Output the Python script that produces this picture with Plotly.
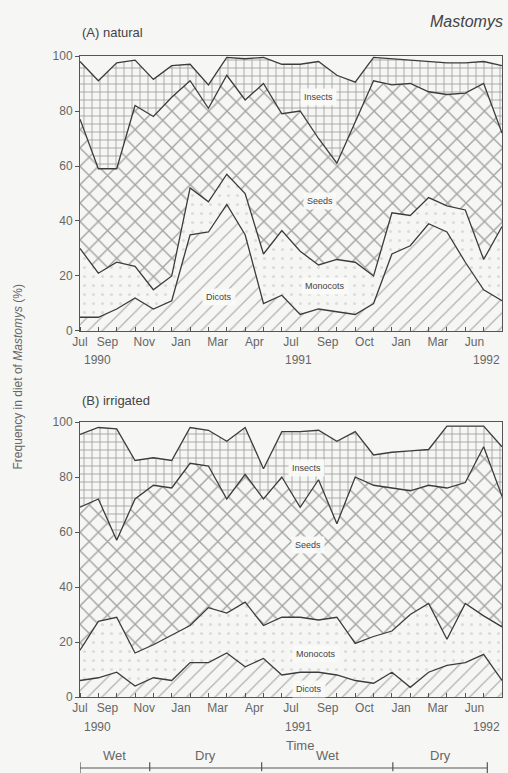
import plotly.graph_objects as go

# ---------------- data ----------------
months = list(range(24))  # monthly samples Jul 1990 .. Jun 1992
tick_pos = [0, 1.5, 3.5, 5.5, 7.5, 9.5, 11.5, 13.5, 15.5, 17.5, 19.5, 21.5]
tick_text = ["Jul", "Sep", "Nov", "Jan", "Mar", "Apr", "Jul", "Sep", "Oct", "Jan", "Mar", "Jun"]
year_text = ["1990", "1991", "1992"]
year_pos = [0.95, 11.9, 23]
season_text = ["Wet", "Dry", "Wet", "Dry"]
season_bounds = [0, 3.8, 9.9, 17.05, 22.2]

# cumulative upper boundaries (%) — (A) natural
nat_dicots = [5, 5, 8, 12, 8, 11, 35, 36, 46, 35, 10, 13, 6, 8, 7, 6, 10, 28, 31, 39, 36, 25, 15, 11]
nat_monocots = [30, 21, 25, 23.5, 15, 20, 52, 47, 57, 50, 28, 36.5, 29, 24, 26, 25, 20, 43, 42, 48.5, 45.5, 44, 26, 38]
nat_seeds = [77, 59, 59, 82, 78, 85, 91, 81, 93, 84, 90, 79, 80, 70, 61, 76, 91, 89.5, 90, 87, 86, 86.5, 90, 72]
nat_insects = [98, 91, 97.5, 98.5, 91.5, 96.5, 97, 89.5, 99.5, 99, 99.5, 97, 97, 98, 93, 90.5, 99.5, 99, 98.5, 98, 97.5, 97.5, 98, 96.5]

# cumulative upper boundaries (%) — (B) irrigated
irr_dicots = [6, 7, 9, 4, 7, 6, 12.5, 12.5, 16, 11, 14, 8, 9, 9, 8, 6, 5, 9, 3.5, 9, 11.5, 12.5, 15.5, 6]
irr_monocots = [17, 27.5, 29, 16, 19, 22.5, 26, 32.5, 30.5, 34.5, 26, 29, 29, 28, 29, 19.5, 22, 24, 30, 34, 21, 34, 29.5, 25.5]
irr_seeds = [69, 72, 57, 72, 77, 76, 85, 84, 72, 81, 72, 80, 69, 79, 63, 80, 77, 76, 75, 77, 76, 78, 91, 73]
irr_insects = [95.5, 98, 97.5, 86, 87, 86, 98, 97, 93, 98, 83, 96.5, 96.5, 97, 93, 96.5, 88, 89, 89.5, 90, 98.5, 98.5, 98.5, 91]

categories = ["Dicots", "Monocots", "Seeds", "Insects"]

# ---------------- style ----------------
BG = "#f6f6f4"
INK = "#3c3c3c"
GRAY = "#666666"
FONT = "Liberation Sans, Arial, sans-serif"
patterns = {
    "Dicots": dict(shape="/", size=10, solidity=0.12, fgcolor="#6a6a6a", bgcolor=BG),
    "Monocots": dict(shape=".", size=9, solidity=0.1, fgcolor="#c2c2c2", bgcolor=BG),
    "Seeds": dict(shape="x", size=13, solidity=0.2, fgcolor="#505050", bgcolor=BG),
    "Insects": dict(shape="+", size=8, solidity=0.2, fgcolor="#444444", bgcolor=BG),
}

fig = go.Figure()


def add_panel(series, xa, ya):
    fig.add_trace(go.Scatter(x=months, y=[0] * len(months), mode="lines",
                             line=dict(width=0), xaxis=xa, yaxis=ya,
                             hoverinfo="skip", showlegend=False))
    for name, vals in zip(categories, series):
        fig.add_trace(go.Scatter(
            x=months, y=vals, mode="lines", name=name, fill="tonexty",
            fillcolor=BG, fillpattern=patterns[name],
            line=dict(color=INK, width=1.3), xaxis=xa, yaxis=ya,
            showlegend=False))


add_panel([nat_dicots, nat_monocots, nat_seeds, nat_insects], "x", "y")
add_panel([irr_dicots, irr_monocots, irr_seeds, irr_insects], "x2", "y2")

xcommon = dict(range=[0, 23], showgrid=False, zeroline=False, showline=True,
               linecolor="#555", linewidth=1, mirror=True,
               tickmode="array", tickvals=tick_pos, ticktext=tick_text,
               ticks="", tickfont=dict(size=12, color=GRAY, family=FONT),
               minor=dict(tickmode="array", tickvals=months, ticks="inside",
                          ticklen=4, tickcolor="#555", showgrid=False))
ycommon = dict(range=[0, 100], showgrid=False, zeroline=False, showline=True,
               linecolor="#555", linewidth=1, mirror=True,
               tickmode="array", tickvals=[0, 20, 40, 60, 80, 100],
               ticks="outside", ticklen=4, tickcolor="#555",
               tickfont=dict(size=12, color=GRAY, family=FONT))

fig.update_layout(
    width=508, height=773,
    margin=dict(l=80, r=6, t=56, b=76),
    paper_bgcolor=BG, plot_bgcolor=BG,
    font=dict(family=FONT, color=GRAY),
    xaxis=dict(domain=[0, 1], anchor="y", **xcommon),
    yaxis=dict(domain=[0.571, 1], anchor="x", **ycommon),
    xaxis2=dict(domain=[0, 1], anchor="y2", **xcommon),
    yaxis2=dict(domain=[0, 0.429], anchor="x2", **ycommon),
)

ann = []
ann.append(dict(text="<i>Mastomys</i>", xref="paper", yref="paper", x=1.007, y=1.054,
                xanchor="right", yanchor="middle", showarrow=False,
                font=dict(size=16, color="#444", family=FONT)))
ann.append(dict(text="(A) natural", xref="paper", yref="paper", x=0.0, y=1.036,
                xanchor="left", yanchor="middle", showarrow=False,
                font=dict(size=13, color="#444", family=FONT)))
ann.append(dict(text="(B) irrigated", xref="paper", yref="paper", x=0.0, y=0.4633,
                xanchor="left", yanchor="middle", showarrow=False,
                font=dict(size=13, color="#444", family=FONT)))
ann.append(dict(text="Frequency in diet of <i>Mastomys</i> (%)", xref="paper", yref="paper",
                x=-0.147, y=0.5, textangle=-90, showarrow=False,
                xanchor="center", yanchor="middle",
                font=dict(size=12, color=GRAY, family=FONT)))

for yref_val, xr in [(0.5257, "x"), (-0.0468, "x2")]:
    for t, p in zip(year_text, year_pos):
        ann.append(dict(text=t, x=p, xref=xr, y=yref_val, yref="paper",
                        xanchor="right" if t == "1992" else "center", yanchor="middle",
                        showarrow=False, font=dict(size=12, color=GRAY, family=FONT)))

ann.append(dict(text="Time", xref="paper", yref="paper", x=0.521, y=-0.076,
                yanchor="middle", showarrow=False, font=dict(size=13, color=GRAY, family=FONT)))

label_font = dict(size=9, color="#444", family=FONT)
box = dict(bgcolor="rgba(250,250,248,0.92)", borderpad=3, showarrow=False, font=label_font)
for txt, xx, yy, xr, yr in [
    ("Insects", 13.0, 85, "x", "y"), ("Seeds", 13.1, 47.4, "x", "y"),
    ("Monocots", 13.35, 16.4, "x", "y"), ("Dicots", 7.6, 12.5, "x", "y"),
    ("Insects", 12.35, 83.2, "x2", "y2"), ("Seeds", 12.4, 55.2, "x2", "y2"),
    ("Monocots", 12.85, 15.7, "x2", "y2"), ("Dicots", 12.5, 2.8, "x2", "y2"),
]:
    ann.append(dict(text=txt, x=xx, y=yy, xref=xr, yref=yr, **box))

shapes = []
ybar = -0.1108
shapes.append(dict(type="line", xref="x2", yref="paper", x0=season_bounds[0], x1=season_bounds[-1],
                   y0=ybar, y1=ybar, line=dict(color="#555", width=1.2)))
for i, b in enumerate(season_bounds):
    end = i in (0, len(season_bounds) - 1)
    shapes.append(dict(type="line", xref="x2", yref="paper", x0=b, x1=b,
                       y0=ybar - (0.008 if end else 0.005), y1=ybar + 0.009,
                       line=dict(color="#555", width=1.2)))
for i, t in enumerate(season_text):
    mid = (season_bounds[i] + season_bounds[i + 1]) / 2
    ann.append(dict(text=t, x=mid, xref="x2", y=-0.0905, yref="paper", showarrow=False,
                    yanchor="middle", font=dict(size=13, color=GRAY, family=FONT)))

fig.update_layout(annotations=ann, shapes=shapes)
# remove the default 8 px page margin so the 508x773 figure fills the window exactly
fig.write_html("out.html", config={"displayModeBar": False},
               post_script="document.body.style.margin='0';document.body.style.overflow='hidden';")
